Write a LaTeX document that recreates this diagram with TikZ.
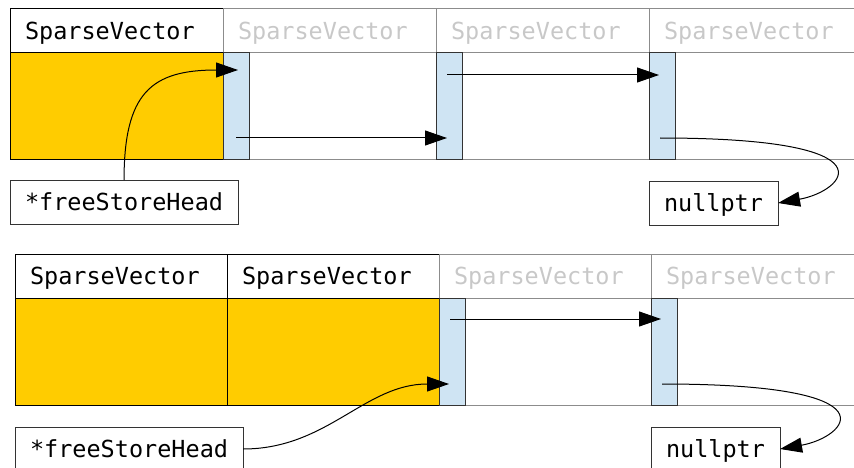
\documentclass[tikz,border=0pt]{standalone}
\usepackage{fontspec}
\setmonofont{DejaVu Sans Mono}
\usepackage{tikz}
\usetikzlibrary{positioning,calc,arrows.meta}
\definecolor{slotyellow}{HTML}{FFCC00}
\definecolor{stripblue}{HTML}{CFE4F3}
\definecolor{cellgray}{HTML}{8C8C8C}
\definecolor{textgray}{HTML}{C8C8C8}
\tikzset{code/.style={font=\ttfamily\fontsize{23.5}{28}\selectfont},
  hdr/.style={code,draw=black,line width=1pt,minimum height=44pt,text width=183pt,inner xsep=15pt,inner ysep=0pt,align=left,text height=17pt,text depth=0pt,outer sep=0pt},
  hdrgray/.style={hdr,draw=cellgray,text=textgray},
  slot/.style={draw=black,fill=slotyellow,line width=1pt,minimum width=213pt,minimum height=107pt,inner sep=0pt,outer sep=0pt},
  cell/.style={slot,draw=cellgray,fill=white},
  strip/.style={draw=black!80,fill=stripblue,line width=1pt,minimum width=26pt,minimum height=107pt,inner sep=0pt,outer sep=0pt},
  ptrbox/.style={code,draw=black!80,line width=1pt,minimum height=44pt,inner xsep=15pt,inner ysep=0pt,text height=17pt,text depth=0pt,outer sep=0pt},
  ptr/.style={-{Triangle[length=22pt,width=15pt]},line width=1pt},
  tonull/.style={out=0,in=10,out distance=240pt,in distance=66pt},}

\begin{document}
\begin{tikzpicture}[x=1pt,y=1pt]
    \useasboundingbox (0,0) rectangle (854,-468);

    % one slot taken, the rest on the free list
    \begin{scope}
    \node[hdr,anchor=north west] (h1) at (10,-9) {SparseVector};
    \node[hdrgray] (h2) [right=0pt of h1] {SparseVector};
    \node[hdrgray] (h3) [right=0pt of h2] {SparseVector};
    \node[hdrgray] (h4) [right=0pt of h3] {SparseVector};

    \node[slot] (b1) [below=0pt of h1] {};
    \node[cell] (c2) [below=0pt of h2] {};
    \node[cell] (c3) [below=0pt of h3] {};
    \node[cell] (c4) [below=0pt of h4] {};
    \node[strip,anchor=north west] (s2) at (c2.north west) {};
    \node[strip,anchor=north west] (s3) at (c3.north west) {};
    \node[strip,anchor=north west] (s4) at (c4.north west) {};

    \node[ptrbox] (head) [below right=20pt and 0pt of b1.south west] {*freeStoreHead};
    \node[ptrbox] (null) [below right=21pt and 0pt of c4.south west] {nullptr};

    \coordinate (s2a) at ($(s2.north)+(2,-17)$);
    \coordinate (s2b) at ($(s2.south)+(0,22)$);
    \coordinate (s3b) at ($(s3.north)+(-2,-22)$);
    \coordinate (s3c) at ($(s3.south)+(-2,22)$);
    \coordinate (s4a) at ($(s4.north)+(-3,-22)$);
    \coordinate (s4b) at ($(s4.south)+(-2,22)$);

    \path[ptr]
    (head.north) edge[out=90,in=180,looseness=1.4] (s2a)
    (s2b) edge (s3c)
    (s3b) edge (s4a)
    (s4b) edge[tonull] (null.east)
    ;
    \end{scope}

    % two slots taken
    \begin{scope}[hdr/.append style={text width=182pt},slot/.append style={minimum width=212pt}]
    \node[hdr,anchor=north west] (h1) at (15,-254) {SparseVector};
    \node[hdr] (h2) [right=0pt of h1] {SparseVector};
    \node[hdrgray] (h3) [right=0pt of h2] {SparseVector};
    \node[hdrgray] (h4) [right=0pt of h3] {SparseVector};

    \node[slot] (b1) [below=0pt of h1] {};
    \node[slot] (b2) [below=0pt of h2] {};
    \node[cell] (c3) [below=0pt of h3] {};
    \node[cell] (c4) [below=0pt of h4] {};
    \node[strip,anchor=north west] (s3) at (c3.north west) {};
    \node[strip,anchor=north west] (s4) at (c4.north west) {};

    \node[ptrbox] (head) [below right=22pt and 0pt of b1.south west] {*freeStoreHead};
    \node[ptrbox] (null) [below right=22pt and 0pt of c4.south west] {nullptr};

    \coordinate (s3a) at ($(s3.south)+(-3,21)$);
    \coordinate (s3b) at ($(s3.north)+(-2,-21)$);
    \coordinate (s4a) at ($(s4.north)+(-3,-21)$);
    \coordinate (s4b) at ($(s4.south)+(-2,21)$);

    \path[ptr]
    (head.east) edge[out=0,in=180] (s3a)
    (s3b) edge (s4a)
    (s4b) edge[tonull] (null.east)
    ;
    \end{scope}
\end{tikzpicture}
\end{document}
